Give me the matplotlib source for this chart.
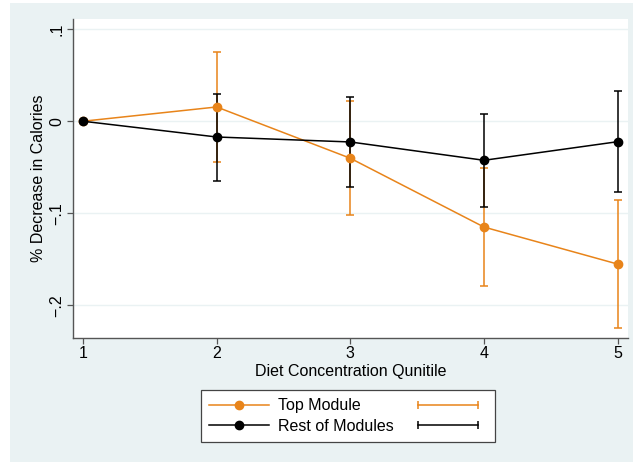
import matplotlib
matplotlib.use("Agg")
import matplotlib.pyplot as plt
from matplotlib.lines import Line2D
from matplotlib.legend_handler import HandlerLine2D
from matplotlib.patches import Rectangle

plt.rcParams['font.family'] = ['Liberation Sans', 'DejaVu Sans']

quintiles = [1, 2, 3, 4, 5]
top_mean = [0.0, 0.0155, -0.0402, -0.1149, -0.1551]
top_hi = [0.0, 0.0753, 0.0217, -0.0508, -0.0859]
top_lo = [0.0, -0.0442, -0.1020, -0.1787, -0.2247]
rest_mean = [0.0, -0.0171, -0.0225, -0.0424, -0.0222]
rest_hi = [0.0, 0.0297, 0.0264, 0.0079, 0.0333]
rest_lo = [0.0, -0.0649, -0.0711, -0.0932, -0.0772]
yticks = [-0.2, -0.1, 0.0, 0.1]
yticklabels = ['\u2212.2', '\u2212.1', '0', '.1']
series_labels = ['Top Module', 'Rest of Modules']

ORANGE = '#E8841A'
BG = '#EAF2F3'
FS = 11.5

W, H = 633, 462
fig = plt.figure(figsize=(W / 100, H / 100), dpi=100)
fig.patch.set_facecolor('white')
fig.patches.append(Rectangle((10 / W, 0), 1 - 10 / W, (H - 3) / H,
                             transform=fig.transFigure, facecolor=BG,
                             edgecolor='none', zorder=-10))

ax = fig.add_axes([72.7 / W, 1 - 337.7 / H, (628 - 72.7) / W, (337.7 - 19) / H])
ax.set_facecolor('white')

def draw_ci(x, lo, hi, color, z):
    xs = [xx for xx, l, h in zip(x, lo, hi) if h != l]
    los = [l for l, h in zip(lo, hi) if h != l]
    his = [h for l, h in zip(lo, hi) if h != l]
    ax.vlines(xs, los, his, color=color, lw=1.1, zorder=z)
    ax.plot(xs, los, ls='none', marker='_', ms=5.3, mew=1.1, color=color, zorder=z)
    ax.plot(xs, his, ls='none', marker='_', ms=5.3, mew=1.1, color=color, zorder=z)

draw_ci(quintiles, top_lo, top_hi, ORANGE, 3)
draw_ci(quintiles, rest_lo, rest_hi, 'black', 4)
ax.plot(quintiles, top_mean, color=ORANGE, lw=1.1, marker='o', ms=6, zorder=5)
ax.plot(quintiles, rest_mean, color='black', lw=1.1, marker='o', ms=6, zorder=6)

ax.set_xlim(0.923, 5.077)
ax.set_ylim(-0.235, 0.111)
ax.set_xticks(quintiles)
ax.set_xticklabels([str(q) for q in quintiles], fontsize=FS)
ax.set_yticks(yticks)
ax.set_yticklabels(yticklabels, fontsize=FS, rotation=90, va='center')
ax.grid(axis='y', color=BG, lw=1.0, zorder=0)
ax.set_axisbelow(True)
for s in ['top', 'right']:
    ax.spines[s].set_visible(False)
for s in ['left', 'bottom']:
    ax.spines[s].set_color('#555555')
    ax.spines[s].set_linewidth(1.0)
ax.tick_params(axis='both', direction='out', length=4, width=0.9, color='#555555', pad=2)
ax.set_xlabel('Diet Concentration Qunitile', fontsize=FS, labelpad=2)
ax.set_ylabel('% Decrease in Calories', fontsize=FS, labelpad=2.2)

h1 = Line2D([], [], color=ORANGE, lw=1.1, marker='o', ms=6)
h2 = Line2D([], [], color='black', lw=1.1, marker='o', ms=6)
c1 = Line2D([], [], color=ORANGE, lw=1.1, marker='|', ms=5.3, mew=1.1)
c2 = Line2D([], [], color='black', lw=1.1, marker='|', ms=5.3, mew=1.1)
cap_handler = HandlerLine2D(numpoints=2, marker_pad=0)
leg = fig.legend([h1, h2, c1, c2], series_labels + ['', ''], ncol=2,
                 loc='center', bbox_to_anchor=(348 / W, 1 - 416 / H),
                 bbox_transform=fig.transFigure, fontsize=FS,
                 handlelength=3.75, handletextpad=0.6, columnspacing=1.5,
                 labelspacing=0.34, borderpad=0.5, fancybox=False,
                 framealpha=1, edgecolor='#444444',
                 handler_map={c1: cap_handler, c2: cap_handler})
leg.get_frame().set_linewidth(0.9)

fig.savefig('out.png', dpi=100, facecolor=fig.get_facecolor())
